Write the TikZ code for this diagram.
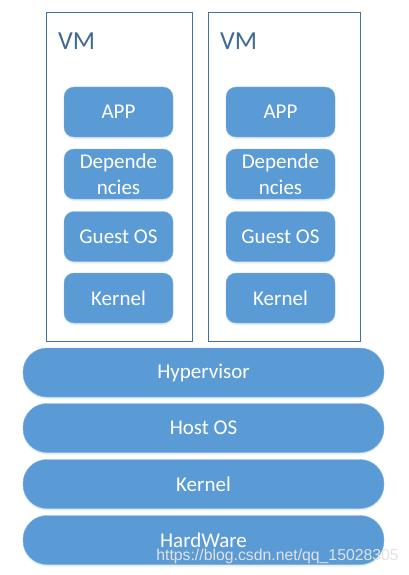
\documentclass[tikz,border=0pt]{standalone}
\usepackage{fontspec}
\setmainfont{Carlito}
\newfontfamily\wmfont{Liberation Sans}
\usetikzlibrary{shadows}
\definecolor{boxfill}{HTML}{5B9BD5}
\definecolor{vmline}{HTML}{41719C}
\definecolor{vmtext}{HTML}{3E6A94}
\definecolor{wmgray}{HTML}{E2E2E2}
\begin{document}
\begin{tikzpicture}[x=1pt,y=-1pt,
  vmbox/.style={draw=vmline, line width=1pt, fill=white, minimum width=#1, minimum height=329pt, inner sep=0pt},
  layer/.style={fill=boxfill, draw=boxfill!80!white, line width=0.4pt, rounded corners=10pt, minimum width=109pt, minimum height=50pt, text=white, font=\fontsize{21}{26}\selectfont, align=center, inner sep=0pt,
    drop shadow={shadow xshift=0pt, shadow yshift=-2pt, fill=boxfill!30!white, opacity=0.5}},
  bar/.style={fill=boxfill, draw=boxfill!80!white, line width=0.4pt, rounded corners=24pt, minimum width=361pt, minimum height=49pt, text=white, font=\fontsize{21}{24}\selectfont, inner sep=0pt,
    drop shadow={shadow xshift=0pt, shadow yshift=-2pt, fill=boxfill!30!white, opacity=0.5}},
  vmlabel/.style={text=vmtext, font=\fontsize{26}{26}\selectfont, anchor=west, inner sep=0pt}]
\useasboundingbox[fill=white] (0,0) rectangle (408,575);
% VM containers
\node[vmbox=146pt] (vm1) at (119,177) {};
\node[vmbox=152pt] (vm2) at (284,177) {};
\node[vmlabel] (vm1l) at (58,41) {VM};
\node[vmlabel] (vm2l) at (220,41) {VM};
% left VM stack
\node[layer] (app1) at (118.5,112) {APP};
\node[layer] (dep1) at (118.5,174) {Depende\\ncies};
\node[layer] (gos1) at (118.5,236.5) {Guest OS};
\node[layer] (ker1) at (118.5,298) {Kernel};
% right VM stack
\node[layer] (app2) at (280.5,112) {APP};
\node[layer] (dep2) at (280.5,174) {Depende\\ncies};
\node[layer] (gos2) at (280.5,236.5) {Guest OS};
\node[layer] (ker2) at (280.5,298) {Kernel};
% host layers
\node[bar] (hyp) at (203.5,372.5) {Hypervisor};
\node[bar] (hos) at (203.5,428) {Host OS};
\node[bar] (hker) at (203.5,484) {Kernel};
\node[bar] (hw) at (203.5,540) {HardWare};
% watermark
\node[anchor=east, inner sep=0pt, text=wmgray, font=\wmfont\fontsize{15.8}{16}\selectfont] (wm) at (399,556) {https://blog.csdn.net/qq\_15028305};
\end{tikzpicture}
\end{document}
